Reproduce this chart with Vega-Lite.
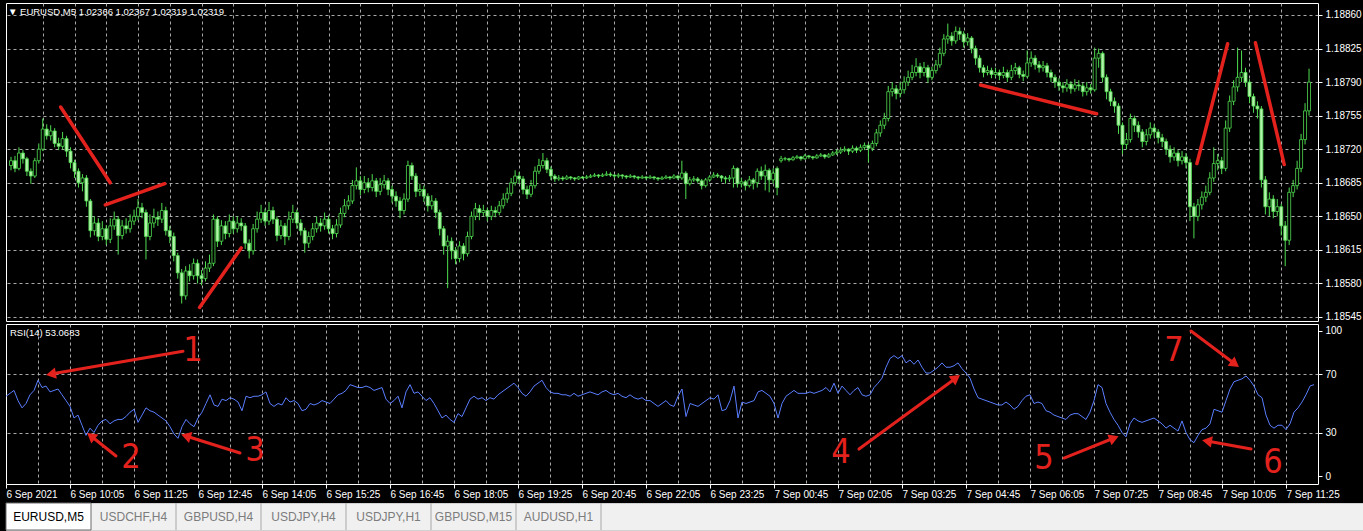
{
"$schema":"https://vega.github.io/schema/vega-lite/v6.json",
"background":"#000000",
"padding":{"left":3,"top":2,"right":0,"bottom":0},
"spacing":2,
"config":{
 "font":"Liberation Sans",
 "view":{"stroke":"#ffffff","strokeWidth":1},
 "axis":{"labelFont":"Liberation Sans","labelFontSize":10,"labelColor":"#ffffff","tickColor":"#ffffff","gridColor":"#a8a8a8","gridDash":[3,3],"gridWidth":1,"domain":false,"labelOverlap":false},
 "title":{"font":"Liberation Sans","fontWeight":"normal","color":"#ffffff","fontSize":9.5}
},
"datasets":{
"bars":[
{"i":0,"o":1.18703,"h":1.18712,"l":1.18698,"c":1.18708,"r":55},
{"i":1,"o":1.18708,"h":1.18713,"l":1.18696,"c":1.18700,"r":57},
{"i":2,"o":1.18700,"h":1.18722,"l":1.18698,"c":1.18716,"r":59},
{"i":3,"o":1.18716,"h":1.18719,"l":1.18705,"c":1.18710,"r":52},
{"i":4,"o":1.18710,"h":1.18712,"l":1.18692,"c":1.18697,"r":47},
{"i":5,"o":1.18697,"h":1.18700,"l":1.18684,"c":1.18692,"r":50},
{"i":6,"o":1.18692,"h":1.18711,"l":1.18690,"c":1.18708,"r":56},
{"i":7,"o":1.18708,"h":1.18726,"l":1.18705,"c":1.18720,"r":59},
{"i":8,"o":1.18720,"h":1.18752,"l":1.18718,"c":1.18741,"r":66},
{"i":9,"o":1.18741,"h":1.18746,"l":1.18730,"c":1.18734,"r":61},
{"i":10,"o":1.18734,"h":1.18745,"l":1.18729,"c":1.18739,"r":62},
{"i":11,"o":1.18739,"h":1.18742,"l":1.18722,"c":1.18726,"r":58},
{"i":12,"o":1.18726,"h":1.18732,"l":1.18719,"c":1.18723,"r":59},
{"i":13,"o":1.18723,"h":1.18738,"l":1.18720,"c":1.18731,"r":60},
{"i":14,"o":1.18731,"h":1.18734,"l":1.18712,"c":1.18718,"r":56},
{"i":15,"o":1.18718,"h":1.18722,"l":1.18700,"c":1.18706,"r":52},
{"i":16,"o":1.18706,"h":1.18709,"l":1.18690,"c":1.18697,"r":48},
{"i":17,"o":1.18697,"h":1.18700,"l":1.18680,"c":1.18685,"r":40},
{"i":18,"o":1.18685,"h":1.18694,"l":1.18676,"c":1.18690,"r":42},
{"i":19,"o":1.18690,"h":1.18693,"l":1.18660,"c":1.18666,"r":35},
{"i":20,"o":1.18666,"h":1.18668,"l":1.18628,"c":1.18635,"r":28},
{"i":21,"o":1.18635,"h":1.18650,"l":1.18630,"c":1.18643,"r":33},
{"i":22,"o":1.18643,"h":1.18648,"l":1.18624,"c":1.18629,"r":30},
{"i":23,"o":1.18629,"h":1.18645,"l":1.18625,"c":1.18637,"r":35},
{"i":24,"o":1.18637,"h":1.18641,"l":1.18620,"c":1.18626,"r":38},
{"i":25,"o":1.18626,"h":1.18648,"l":1.18622,"c":1.18640,"r":39},
{"i":26,"o":1.18640,"h":1.18655,"l":1.18636,"c":1.18647,"r":36},
{"i":27,"o":1.18647,"h":1.18650,"l":1.18610,"c":1.18630,"r":38},
{"i":28,"o":1.18630,"h":1.18646,"l":1.18626,"c":1.18640,"r":39},
{"i":29,"o":1.18640,"h":1.18648,"l":1.18632,"c":1.18637,"r":39},
{"i":30,"o":1.18637,"h":1.18652,"l":1.18633,"c":1.18645,"r":41},
{"i":31,"o":1.18645,"h":1.18657,"l":1.18641,"c":1.18650,"r":44},
{"i":32,"o":1.18650,"h":1.18668,"l":1.18646,"c":1.18659,"r":46},
{"i":33,"o":1.18659,"h":1.18664,"l":1.18648,"c":1.18654,"r":37},
{"i":34,"o":1.18654,"h":1.18657,"l":1.18605,"c":1.18629,"r":42},
{"i":35,"o":1.18629,"h":1.18652,"l":1.18625,"c":1.18643,"r":47},
{"i":36,"o":1.18643,"h":1.18658,"l":1.18638,"c":1.18649,"r":45},
{"i":37,"o":1.18649,"h":1.18655,"l":1.18640,"c":1.18647,"r":44},
{"i":38,"o":1.18647,"h":1.18664,"l":1.18643,"c":1.18656,"r":42},
{"i":39,"o":1.18656,"h":1.18660,"l":1.18630,"c":1.18635,"r":40},
{"i":40,"o":1.18635,"h":1.18640,"l":1.18622,"c":1.18629,"r":38},
{"i":41,"o":1.18629,"h":1.18633,"l":1.18603,"c":1.18609,"r":34},
{"i":42,"o":1.18609,"h":1.18612,"l":1.18585,"c":1.18591,"r":29},
{"i":43,"o":1.18591,"h":1.18595,"l":1.18559,"c":1.18567,"r":26},
{"i":44,"o":1.18567,"h":1.18598,"l":1.18563,"c":1.18593,"r":34},
{"i":45,"o":1.18593,"h":1.18600,"l":1.18582,"c":1.18588,"r":39},
{"i":46,"o":1.18588,"h":1.18606,"l":1.18584,"c":1.18601,"r":36},
{"i":47,"o":1.18601,"h":1.18605,"l":1.18580,"c":1.18588,"r":34},
{"i":48,"o":1.18588,"h":1.18594,"l":1.18578,"c":1.18585,"r":40},
{"i":49,"o":1.18585,"h":1.18603,"l":1.18582,"c":1.18596,"r":44},
{"i":50,"o":1.18596,"h":1.18610,"l":1.18592,"c":1.18601,"r":50},
{"i":51,"o":1.18601,"h":1.18652,"l":1.18598,"c":1.18647,"r":56},
{"i":52,"o":1.18647,"h":1.18650,"l":1.18618,"c":1.18624,"r":49},
{"i":53,"o":1.18624,"h":1.18646,"l":1.18620,"c":1.18640,"r":48},
{"i":54,"o":1.18640,"h":1.18645,"l":1.18626,"c":1.18632,"r":53},
{"i":55,"o":1.18632,"h":1.18652,"l":1.18628,"c":1.18645,"r":52},
{"i":56,"o":1.18645,"h":1.18650,"l":1.18632,"c":1.18637,"r":54},
{"i":57,"o":1.18637,"h":1.18650,"l":1.18633,"c":1.18643,"r":53},
{"i":58,"o":1.18643,"h":1.18648,"l":1.18635,"c":1.18640,"r":51},
{"i":59,"o":1.18640,"h":1.18643,"l":1.18616,"c":1.18622,"r":45},
{"i":60,"o":1.18622,"h":1.18626,"l":1.18606,"c":1.18614,"r":55},
{"i":61,"o":1.18614,"h":1.18642,"l":1.18610,"c":1.18637,"r":54},
{"i":62,"o":1.18637,"h":1.18655,"l":1.18633,"c":1.18647,"r":55},
{"i":63,"o":1.18647,"h":1.18662,"l":1.18643,"c":1.18654,"r":55},
{"i":64,"o":1.18654,"h":1.18658,"l":1.18640,"c":1.18645,"r":56},
{"i":65,"o":1.18645,"h":1.18665,"l":1.18641,"c":1.18656,"r":58},
{"i":66,"o":1.18656,"h":1.18660,"l":1.18642,"c":1.18647,"r":50},
{"i":67,"o":1.18647,"h":1.18650,"l":1.18624,"c":1.18630,"r":48},
{"i":68,"o":1.18630,"h":1.18646,"l":1.18626,"c":1.18640,"r":50},
{"i":69,"o":1.18640,"h":1.18643,"l":1.18620,"c":1.18629,"r":49},
{"i":70,"o":1.18629,"h":1.18655,"l":1.18625,"c":1.18647,"r":54},
{"i":71,"o":1.18647,"h":1.18662,"l":1.18643,"c":1.18654,"r":51},
{"i":72,"o":1.18654,"h":1.18657,"l":1.18637,"c":1.18643,"r":52},
{"i":73,"o":1.18643,"h":1.18647,"l":1.18630,"c":1.18635,"r":50},
{"i":74,"o":1.18635,"h":1.18638,"l":1.18612,"c":1.18622,"r":45},
{"i":75,"o":1.18622,"h":1.18634,"l":1.18617,"c":1.18629,"r":46},
{"i":76,"o":1.18629,"h":1.18643,"l":1.18625,"c":1.18637,"r":50},
{"i":77,"o":1.18637,"h":1.18650,"l":1.18633,"c":1.18643,"r":49},
{"i":78,"o":1.18643,"h":1.18648,"l":1.18634,"c":1.18640,"r":50},
{"i":79,"o":1.18640,"h":1.18654,"l":1.18636,"c":1.18647,"r":52},
{"i":80,"o":1.18647,"h":1.18651,"l":1.18632,"c":1.18637,"r":51},
{"i":81,"o":1.18637,"h":1.18641,"l":1.18626,"c":1.18632,"r":50},
{"i":82,"o":1.18632,"h":1.18647,"l":1.18628,"c":1.18641,"r":53},
{"i":83,"o":1.18641,"h":1.18659,"l":1.18638,"c":1.18653,"r":56},
{"i":84,"o":1.18653,"h":1.18668,"l":1.18649,"c":1.18661,"r":57},
{"i":85,"o":1.18661,"h":1.18672,"l":1.18657,"c":1.18666,"r":59},
{"i":86,"o":1.18666,"h":1.18688,"l":1.18663,"c":1.18682,"r":63},
{"i":87,"o":1.18682,"h":1.18701,"l":1.18678,"c":1.18687,"r":62},
{"i":88,"o":1.18687,"h":1.18692,"l":1.18672,"c":1.18678,"r":61},
{"i":89,"o":1.18678,"h":1.18692,"l":1.18674,"c":1.18685,"r":61},
{"i":90,"o":1.18685,"h":1.18690,"l":1.18675,"c":1.18680,"r":62},
{"i":91,"o":1.18680,"h":1.18694,"l":1.18676,"c":1.18687,"r":61},
{"i":92,"o":1.18687,"h":1.18690,"l":1.18670,"c":1.18676,"r":59},
{"i":93,"o":1.18676,"h":1.18690,"l":1.18672,"c":1.18683,"r":60},
{"i":94,"o":1.18683,"h":1.18693,"l":1.18679,"c":1.18687,"r":61},
{"i":95,"o":1.18687,"h":1.18690,"l":1.18672,"c":1.18678,"r":53},
{"i":96,"o":1.18678,"h":1.18682,"l":1.18664,"c":1.18671,"r":50},
{"i":97,"o":1.18671,"h":1.18676,"l":1.18660,"c":1.18666,"r":52},
{"i":98,"o":1.18666,"h":1.18670,"l":1.18648,"c":1.18656,"r":55},
{"i":99,"o":1.18656,"h":1.18674,"l":1.18652,"c":1.18668,"r":47},
{"i":100,"o":1.18668,"h":1.18708,"l":1.18665,"c":1.18703,"r":58},
{"i":101,"o":1.18703,"h":1.18706,"l":1.18688,"c":1.18692,"r":63},
{"i":102,"o":1.18692,"h":1.18695,"l":1.18670,"c":1.18676,"r":57},
{"i":103,"o":1.18676,"h":1.18684,"l":1.18671,"c":1.18678,"r":58},
{"i":104,"o":1.18678,"h":1.18682,"l":1.18665,"c":1.18671,"r":55},
{"i":105,"o":1.18671,"h":1.18674,"l":1.18655,"c":1.18661,"r":52},
{"i":106,"o":1.18661,"h":1.18672,"l":1.18657,"c":1.18666,"r":54},
{"i":107,"o":1.18666,"h":1.18669,"l":1.18648,"c":1.18654,"r":50},
{"i":108,"o":1.18654,"h":1.18657,"l":1.18630,"c":1.18637,"r":45},
{"i":109,"o":1.18637,"h":1.18640,"l":1.18610,"c":1.18619,"r":40},
{"i":110,"o":1.18619,"h":1.18630,"l":1.18575,"c":1.18624,"r":42},
{"i":111,"o":1.18624,"h":1.18628,"l":1.18605,"c":1.18614,"r":39},
{"i":112,"o":1.18614,"h":1.18618,"l":1.18600,"c":1.18606,"r":37},
{"i":113,"o":1.18606,"h":1.18624,"l":1.18602,"c":1.18619,"r":43},
{"i":114,"o":1.18619,"h":1.18622,"l":1.18604,"c":1.18611,"r":41},
{"i":115,"o":1.18611,"h":1.18634,"l":1.18608,"c":1.18629,"r":47},
{"i":116,"o":1.18629,"h":1.18655,"l":1.18626,"c":1.18650,"r":53},
{"i":117,"o":1.18650,"h":1.18664,"l":1.18646,"c":1.18658,"r":55},
{"i":118,"o":1.18658,"h":1.18662,"l":1.18646,"c":1.18654,"r":53},
{"i":119,"o":1.18654,"h":1.18662,"l":1.18650,"c":1.18656,"r":54},
{"i":120,"o":1.18656,"h":1.18659,"l":1.18645,"c":1.18650,"r":52},
{"i":121,"o":1.18650,"h":1.18661,"l":1.18646,"c":1.18656,"r":54},
{"i":122,"o":1.18656,"h":1.18660,"l":1.18649,"c":1.18654,"r":53},
{"i":123,"o":1.18654,"h":1.18666,"l":1.18651,"c":1.18661,"r":56},
{"i":124,"o":1.18661,"h":1.18674,"l":1.18658,"c":1.18668,"r":58},
{"i":125,"o":1.18668,"h":1.18680,"l":1.18664,"c":1.18674,"r":60},
{"i":126,"o":1.18674,"h":1.18690,"l":1.18671,"c":1.18685,"r":62},
{"i":127,"o":1.18685,"h":1.18698,"l":1.18682,"c":1.18692,"r":64},
{"i":128,"o":1.18692,"h":1.18696,"l":1.18684,"c":1.18689,"r":61},
{"i":129,"o":1.18689,"h":1.18692,"l":1.18673,"c":1.18678,"r":57},
{"i":130,"o":1.18678,"h":1.18682,"l":1.18668,"c":1.18673,"r":55},
{"i":131,"o":1.18673,"h":1.18688,"l":1.18670,"c":1.18682,"r":58},
{"i":132,"o":1.18682,"h":1.18702,"l":1.18679,"c":1.18697,"r":62},
{"i":133,"o":1.18697,"h":1.18710,"l":1.18694,"c":1.18703,"r":64},
{"i":134,"o":1.18703,"h":1.18716,"l":1.18700,"c":1.18708,"r":66},
{"i":135,"o":1.18708,"h":1.18711,"l":1.18695,"c":1.18699,"r":61},
{"i":136,"o":1.18699,"h":1.18702,"l":1.18688,"c":1.18692,"r":58},
{"i":137,"o":1.18692,"h":1.18694,"l":1.18686,"c":1.18689,"r":57},
{"i":138,"o":1.18689,"h":1.18693,"l":1.18687,"c":1.18690,"r":57},
{"i":139,"o":1.18690,"h":1.18692,"l":1.18687,"c":1.18689,"r":56},
{"i":140,"o":1.18689,"h":1.18693,"l":1.18688,"c":1.18691,"r":56},
{"i":141,"o":1.18691,"h":1.18692,"l":1.18688,"c":1.18690,"r":55},
{"i":142,"o":1.18690,"h":1.18691,"l":1.18687,"c":1.18689,"r":57},
{"i":143,"o":1.18689,"h":1.18692,"l":1.18688,"c":1.18691,"r":55},
{"i":144,"o":1.18691,"h":1.18692,"l":1.18689,"c":1.18690,"r":56},
{"i":145,"o":1.18690,"h":1.18693,"l":1.18689,"c":1.18691,"r":57},
{"i":146,"o":1.18691,"h":1.18694,"l":1.18690,"c":1.18692,"r":58},
{"i":147,"o":1.18692,"h":1.18695,"l":1.18691,"c":1.18693,"r":57},
{"i":148,"o":1.18693,"h":1.18694,"l":1.18690,"c":1.18692,"r":56},
{"i":149,"o":1.18692,"h":1.18695,"l":1.18691,"c":1.18693,"r":58},
{"i":150,"o":1.18693,"h":1.18697,"l":1.18692,"c":1.18694,"r":59},
{"i":151,"o":1.18694,"h":1.18696,"l":1.18691,"c":1.18693,"r":57},
{"i":152,"o":1.18693,"h":1.18694,"l":1.18690,"c":1.18692,"r":56},
{"i":153,"o":1.18692,"h":1.18695,"l":1.18690,"c":1.18693,"r":57},
{"i":154,"o":1.18693,"h":1.18694,"l":1.18689,"c":1.18692,"r":55},
{"i":155,"o":1.18692,"h":1.18693,"l":1.18689,"c":1.18691,"r":54},
{"i":156,"o":1.18691,"h":1.18694,"l":1.18690,"c":1.18692,"r":56},
{"i":157,"o":1.18692,"h":1.18693,"l":1.18689,"c":1.18691,"r":54},
{"i":158,"o":1.18691,"h":1.18692,"l":1.18688,"c":1.18690,"r":53},
{"i":159,"o":1.18690,"h":1.18693,"l":1.18689,"c":1.18691,"r":54},
{"i":160,"o":1.18691,"h":1.18692,"l":1.18688,"c":1.18690,"r":52},
{"i":161,"o":1.18690,"h":1.18693,"l":1.18689,"c":1.18691,"r":52},
{"i":162,"o":1.18691,"h":1.18692,"l":1.18688,"c":1.18690,"r":50},
{"i":163,"o":1.18690,"h":1.18691,"l":1.18687,"c":1.18689,"r":48},
{"i":164,"o":1.18689,"h":1.18692,"l":1.18688,"c":1.18690,"r":50},
{"i":165,"o":1.18690,"h":1.18693,"l":1.18689,"c":1.18691,"r":52},
{"i":166,"o":1.18691,"h":1.18692,"l":1.18688,"c":1.18690,"r":49},
{"i":167,"o":1.18690,"h":1.18694,"l":1.18689,"c":1.18692,"r":48},
{"i":168,"o":1.18692,"h":1.18693,"l":1.18688,"c":1.18690,"r":55},
{"i":169,"o":1.18690,"h":1.18708,"l":1.18688,"c":1.18695,"r":60},
{"i":170,"o":1.18695,"h":1.18697,"l":1.18668,"c":1.18684,"r":41},
{"i":171,"o":1.18684,"h":1.18691,"l":1.18682,"c":1.18688,"r":50},
{"i":172,"o":1.18688,"h":1.18692,"l":1.18686,"c":1.18689,"r":49},
{"i":173,"o":1.18689,"h":1.18691,"l":1.18685,"c":1.18687,"r":48},
{"i":174,"o":1.18687,"h":1.18689,"l":1.18678,"c":1.18682,"r":50},
{"i":175,"o":1.18682,"h":1.18690,"l":1.18680,"c":1.18688,"r":52},
{"i":176,"o":1.18688,"h":1.18693,"l":1.18686,"c":1.18691,"r":54},
{"i":177,"o":1.18691,"h":1.18696,"l":1.18690,"c":1.18693,"r":53},
{"i":178,"o":1.18693,"h":1.18695,"l":1.18690,"c":1.18692,"r":56},
{"i":179,"o":1.18692,"h":1.18693,"l":1.18686,"c":1.18690,"r":45},
{"i":180,"o":1.18690,"h":1.18692,"l":1.18684,"c":1.18689,"r":46},
{"i":181,"o":1.18689,"h":1.18693,"l":1.18686,"c":1.18690,"r":52},
{"i":182,"o":1.18690,"h":1.18703,"l":1.18680,"c":1.18700,"r":62},
{"i":183,"o":1.18700,"h":1.18701,"l":1.18680,"c":1.18684,"r":40},
{"i":184,"o":1.18684,"h":1.18690,"l":1.18680,"c":1.18686,"r":51},
{"i":185,"o":1.18686,"h":1.18688,"l":1.18677,"c":1.18682,"r":50},
{"i":186,"o":1.18682,"h":1.18692,"l":1.18680,"c":1.18688,"r":51},
{"i":187,"o":1.18688,"h":1.18690,"l":1.18678,"c":1.18685,"r":52},
{"i":188,"o":1.18685,"h":1.18700,"l":1.18680,"c":1.18697,"r":58},
{"i":189,"o":1.18697,"h":1.18702,"l":1.18688,"c":1.18692,"r":59},
{"i":190,"o":1.18692,"h":1.18704,"l":1.18677,"c":1.18698,"r":57},
{"i":191,"o":1.18698,"h":1.18700,"l":1.18675,"c":1.18688,"r":55},
{"i":192,"o":1.18688,"h":1.18700,"l":1.18684,"c":1.18695,"r":50},
{"i":193,"o":1.18700,"h":1.18702,"l":1.18672,"c":1.18680,"r":40},
{"i":194,"o":1.18708,"h":1.18713,"l":1.18706,"c":1.18710,"r":50},
{"i":195,"o":1.18710,"h":1.18712,"l":1.18708,"c":1.18710,"r":55},
{"i":196,"o":1.18710,"h":1.18711,"l":1.18707,"c":1.18709,"r":57},
{"i":197,"o":1.18709,"h":1.18713,"l":1.18708,"c":1.18711,"r":59},
{"i":198,"o":1.18711,"h":1.18714,"l":1.18710,"c":1.18712,"r":57},
{"i":199,"o":1.18712,"h":1.18713,"l":1.18708,"c":1.18710,"r":57},
{"i":200,"o":1.18710,"h":1.18715,"l":1.18709,"c":1.18713,"r":57},
{"i":201,"o":1.18713,"h":1.18714,"l":1.18710,"c":1.18712,"r":58},
{"i":202,"o":1.18712,"h":1.18713,"l":1.18709,"c":1.18711,"r":57},
{"i":203,"o":1.18711,"h":1.18715,"l":1.18710,"c":1.18713,"r":58},
{"i":204,"o":1.18713,"h":1.18716,"l":1.18712,"c":1.18714,"r":59},
{"i":205,"o":1.18714,"h":1.18715,"l":1.18710,"c":1.18712,"r":61},
{"i":206,"o":1.18712,"h":1.18716,"l":1.18711,"c":1.18714,"r":58},
{"i":207,"o":1.18714,"h":1.18718,"l":1.18713,"c":1.18716,"r":64},
{"i":208,"o":1.18716,"h":1.18720,"l":1.18714,"c":1.18717,"r":57},
{"i":209,"o":1.18717,"h":1.18722,"l":1.18715,"c":1.18719,"r":62},
{"i":210,"o":1.18719,"h":1.18723,"l":1.18717,"c":1.18720,"r":59},
{"i":211,"o":1.18720,"h":1.18721,"l":1.18714,"c":1.18718,"r":56},
{"i":212,"o":1.18718,"h":1.18724,"l":1.18716,"c":1.18721,"r":59},
{"i":213,"o":1.18721,"h":1.18723,"l":1.18716,"c":1.18719,"r":61},
{"i":214,"o":1.18719,"h":1.18725,"l":1.18717,"c":1.18722,"r":56},
{"i":215,"o":1.18722,"h":1.18727,"l":1.18719,"c":1.18724,"r":55},
{"i":216,"o":1.18724,"h":1.18726,"l":1.18706,"c":1.18721,"r":56},
{"i":217,"o":1.18721,"h":1.18729,"l":1.18718,"c":1.18726,"r":61},
{"i":218,"o":1.18726,"h":1.18741,"l":1.18723,"c":1.18737,"r":64},
{"i":219,"o":1.18737,"h":1.18750,"l":1.18733,"c":1.18745,"r":67.5},
{"i":220,"o":1.18745,"h":1.18758,"l":1.18741,"c":1.18752,"r":75},
{"i":221,"o":1.18752,"h":1.18786,"l":1.18749,"c":1.18780,"r":81},
{"i":222,"o":1.18780,"h":1.18790,"l":1.18775,"c":1.18783,"r":83},
{"i":223,"o":1.18783,"h":1.18787,"l":1.18772,"c":1.18778,"r":81},
{"i":224,"o":1.18778,"h":1.18790,"l":1.18774,"c":1.18782,"r":83},
{"i":225,"o":1.18782,"h":1.18796,"l":1.18778,"c":1.18790,"r":78},
{"i":226,"o":1.18790,"h":1.18802,"l":1.18786,"c":1.18795,"r":80},
{"i":227,"o":1.18795,"h":1.18808,"l":1.18792,"c":1.18800,"r":77},
{"i":228,"o":1.18800,"h":1.18815,"l":1.18796,"c":1.18806,"r":80},
{"i":229,"o":1.18806,"h":1.18810,"l":1.18794,"c":1.18800,"r":75},
{"i":230,"o":1.18800,"h":1.18811,"l":1.18796,"c":1.18805,"r":71},
{"i":231,"o":1.18805,"h":1.18808,"l":1.18789,"c":1.18795,"r":71},
{"i":232,"o":1.18795,"h":1.18806,"l":1.18792,"c":1.18802,"r":73},
{"i":233,"o":1.18802,"h":1.18813,"l":1.18799,"c":1.18808,"r":75},
{"i":234,"o":1.18808,"h":1.18826,"l":1.18805,"c":1.18820,"r":78},
{"i":235,"o":1.18820,"h":1.18840,"l":1.18817,"c":1.18835,"r":75},
{"i":236,"o":1.18835,"h":1.18851,"l":1.18830,"c":1.18838,"r":75},
{"i":237,"o":1.18838,"h":1.18842,"l":1.18828,"c":1.18833,"r":76},
{"i":238,"o":1.18833,"h":1.18848,"l":1.18830,"c":1.18843,"r":78},
{"i":239,"o":1.18843,"h":1.18847,"l":1.18834,"c":1.18840,"r":74},
{"i":240,"o":1.18840,"h":1.18843,"l":1.18826,"c":1.18832,"r":71},
{"i":241,"o":1.18832,"h":1.18841,"l":1.18828,"c":1.18836,"r":67.5},
{"i":242,"o":1.18836,"h":1.18838,"l":1.18820,"c":1.18825,"r":60},
{"i":243,"o":1.18825,"h":1.18828,"l":1.18808,"c":1.18815,"r":54},
{"i":244,"o":1.18815,"h":1.18818,"l":1.18800,"c":1.18805,"r":53},
{"i":245,"o":1.18805,"h":1.18808,"l":1.18795,"c":1.18800,"r":52},
{"i":246,"o":1.18800,"h":1.18807,"l":1.18797,"c":1.18802,"r":51},
{"i":247,"o":1.18802,"h":1.18805,"l":1.18794,"c":1.18798,"r":50},
{"i":248,"o":1.18798,"h":1.18805,"l":1.18795,"c":1.18800,"r":49},
{"i":249,"o":1.18800,"h":1.18803,"l":1.18792,"c":1.18797,"r":49},
{"i":250,"o":1.18797,"h":1.18806,"l":1.18794,"c":1.18800,"r":51},
{"i":251,"o":1.18800,"h":1.18803,"l":1.18790,"c":1.18795,"r":49},
{"i":252,"o":1.18795,"h":1.18808,"l":1.18792,"c":1.18802,"r":46},
{"i":253,"o":1.18802,"h":1.18810,"l":1.18798,"c":1.18805,"r":48},
{"i":254,"o":1.18805,"h":1.18807,"l":1.18794,"c":1.18798,"r":52},
{"i":255,"o":1.18798,"h":1.18802,"l":1.18791,"c":1.18796,"r":55},
{"i":256,"o":1.18796,"h":1.18823,"l":1.18794,"c":1.18810,"r":56},
{"i":257,"o":1.18810,"h":1.18822,"l":1.18806,"c":1.18815,"r":50},
{"i":258,"o":1.18815,"h":1.18818,"l":1.18803,"c":1.18808,"r":51},
{"i":259,"o":1.18808,"h":1.18812,"l":1.18800,"c":1.18805,"r":50},
{"i":260,"o":1.18805,"h":1.18812,"l":1.18801,"c":1.18807,"r":45},
{"i":261,"o":1.18807,"h":1.18810,"l":1.18795,"c":1.18800,"r":44},
{"i":262,"o":1.18800,"h":1.18803,"l":1.18790,"c":1.18795,"r":42},
{"i":263,"o":1.18795,"h":1.18798,"l":1.18784,"c":1.18790,"r":41},
{"i":264,"o":1.18790,"h":1.18794,"l":1.18781,"c":1.18786,"r":40},
{"i":265,"o":1.18786,"h":1.18790,"l":1.18779,"c":1.18784,"r":39},
{"i":266,"o":1.18784,"h":1.18793,"l":1.18780,"c":1.18788,"r":42},
{"i":267,"o":1.18788,"h":1.18791,"l":1.18778,"c":1.18783,"r":43},
{"i":268,"o":1.18783,"h":1.18793,"l":1.18780,"c":1.18787,"r":43},
{"i":269,"o":1.18787,"h":1.18792,"l":1.18781,"c":1.18786,"r":41},
{"i":270,"o":1.18786,"h":1.18789,"l":1.18775,"c":1.18780,"r":39},
{"i":271,"o":1.18780,"h":1.18790,"l":1.18776,"c":1.18784,"r":44},
{"i":272,"o":1.18784,"h":1.18788,"l":1.18778,"c":1.18782,"r":52},
{"i":273,"o":1.18782,"h":1.18826,"l":1.18780,"c":1.18815,"r":63},
{"i":274,"o":1.18815,"h":1.18825,"l":1.18805,"c":1.18820,"r":61},
{"i":275,"o":1.18820,"h":1.18822,"l":1.18790,"c":1.18795,"r":50},
{"i":276,"o":1.18795,"h":1.18798,"l":1.18772,"c":1.18780,"r":44},
{"i":277,"o":1.18780,"h":1.18783,"l":1.18765,"c":1.18770,"r":39},
{"i":278,"o":1.18770,"h":1.18774,"l":1.18758,"c":1.18765,"r":35},
{"i":279,"o":1.18765,"h":1.18768,"l":1.18736,"c":1.18745,"r":30},
{"i":280,"o":1.18745,"h":1.18748,"l":1.18715,"c":1.18725,"r":27},
{"i":281,"o":1.18725,"h":1.18737,"l":1.18720,"c":1.18730,"r":36},
{"i":282,"o":1.18730,"h":1.18757,"l":1.18727,"c":1.18752,"r":40},
{"i":283,"o":1.18752,"h":1.18755,"l":1.18738,"c":1.18745,"r":38},
{"i":284,"o":1.18745,"h":1.18749,"l":1.18732,"c":1.18738,"r":37},
{"i":285,"o":1.18738,"h":1.18741,"l":1.18722,"c":1.18728,"r":38},
{"i":286,"o":1.18728,"h":1.18741,"l":1.18724,"c":1.18735,"r":39},
{"i":287,"o":1.18735,"h":1.18748,"l":1.18731,"c":1.18742,"r":40},
{"i":288,"o":1.18742,"h":1.18746,"l":1.18732,"c":1.18738,"r":38},
{"i":289,"o":1.18738,"h":1.18741,"l":1.18726,"c":1.18732,"r":36},
{"i":290,"o":1.18732,"h":1.18736,"l":1.18722,"c":1.18728,"r":33},
{"i":291,"o":1.18728,"h":1.18731,"l":1.18714,"c":1.18720,"r":35},
{"i":292,"o":1.18720,"h":1.18724,"l":1.18706,"c":1.18712,"r":33},
{"i":293,"o":1.18712,"h":1.18722,"l":1.18708,"c":1.18716,"r":31},
{"i":294,"o":1.18716,"h":1.18719,"l":1.18702,"c":1.18708,"r":38},
{"i":295,"o":1.18708,"h":1.18718,"l":1.18704,"c":1.18712,"r":30},
{"i":296,"o":1.18712,"h":1.18716,"l":1.18700,"c":1.18706,"r":25},
{"i":297,"o":1.18706,"h":1.18710,"l":1.18645,"c":1.18660,"r":23},
{"i":298,"o":1.18660,"h":1.18664,"l":1.18627,"c":1.18650,"r":28},
{"i":299,"o":1.18650,"h":1.18668,"l":1.18645,"c":1.18662,"r":32},
{"i":300,"o":1.18662,"h":1.18676,"l":1.18657,"c":1.18670,"r":33},
{"i":301,"o":1.18670,"h":1.18682,"l":1.18665,"c":1.18675,"r":36},
{"i":302,"o":1.18675,"h":1.18696,"l":1.18672,"c":1.18690,"r":46},
{"i":303,"o":1.18690,"h":1.18722,"l":1.18686,"c":1.18705,"r":45},
{"i":304,"o":1.18705,"h":1.18715,"l":1.18698,"c":1.18708,"r":44},
{"i":305,"o":1.18708,"h":1.18712,"l":1.18694,"c":1.18700,"r":52},
{"i":306,"o":1.18700,"h":1.18750,"l":1.18697,"c":1.18742,"r":60},
{"i":307,"o":1.18742,"h":1.18776,"l":1.18738,"c":1.18770,"r":65},
{"i":308,"o":1.18770,"h":1.18792,"l":1.18766,"c":1.18785,"r":66},
{"i":309,"o":1.18785,"h":1.18826,"l":1.18780,"c":1.18795,"r":67},
{"i":310,"o":1.18795,"h":1.18823,"l":1.18790,"c":1.18800,"r":69},
{"i":311,"o":1.18800,"h":1.18805,"l":1.18785,"c":1.18790,"r":66},
{"i":312,"o":1.18790,"h":1.18793,"l":1.18768,"c":1.18775,"r":62},
{"i":313,"o":1.18775,"h":1.18778,"l":1.18758,"c":1.18765,"r":56},
{"i":314,"o":1.18765,"h":1.18770,"l":1.18752,"c":1.18762,"r":54},
{"i":315,"o":1.18762,"h":1.18765,"l":1.18680,"c":1.18688,"r":42},
{"i":316,"o":1.18688,"h":1.18692,"l":1.18652,"c":1.18660,"r":35},
{"i":317,"o":1.18660,"h":1.18675,"l":1.18650,"c":1.18668,"r":33},
{"i":318,"o":1.18668,"h":1.18672,"l":1.18648,"c":1.18655,"r":35},
{"i":319,"o":1.18655,"h":1.18668,"l":1.18650,"c":1.18660,"r":35},
{"i":320,"o":1.18660,"h":1.18663,"l":1.18630,"c":1.18640,"r":32},
{"i":321,"o":1.18640,"h":1.18645,"l":1.18598,"c":1.18625,"r":36},
{"i":322,"o":1.18625,"h":1.18680,"l":1.18620,"c":1.18675,"r":44},
{"i":323,"o":1.18675,"h":1.18688,"l":1.18670,"c":1.18682,"r":47},
{"i":324,"o":1.18682,"h":1.18708,"l":1.18678,"c":1.18700,"r":51},
{"i":325,"o":1.18700,"h":1.18736,"l":1.18696,"c":1.18730,"r":56},
{"i":326,"o":1.18730,"h":1.18768,"l":1.18725,"c":1.18760,"r":62},
{"i":327,"o":1.18760,"h":1.18804,"l":1.18755,"c":1.18790,"r":63}
],
"lines":[
{"x":12.5,"y":1.18764,"x2":25,"y2":1.18685},
{"x":23.75,"y":1.18662,"x2":38.75,"y2":1.18684},
{"x":47.5,"y":1.18555,"x2":58,"y2":1.18617},
{"x":244.25,"y":1.18787,"x2":273.5,"y2":1.18757},
{"x":298.75,"y":1.18705,"x2":306.5,"y2":1.18830},
{"x":313.5,"y":1.18831,"x2":320.75,"y2":1.18704}
],
"arrows":[
{"n":"1","x":44.25,"r":86,"x2":11.25,"r2":70.3,"lx":46.75,"lr":86},
{"n":"2","x":27.5,"r":13.8,"x2":21.25,"r2":27.6,"lx":31.25,"lr":12.4},
{"n":"3","x":58.5,"r":15.9,"x2":45,"r2":27.6,"lx":62.25,"lr":17},
{"n":"4","x":213.25,"r":18.6,"x2":237.5,"r2":67.6,"lx":208.75,"lr":15.9},
{"n":"5","x":264.5,"r":12.4,"x2":277,"r2":26.2,"lx":259.5,"lr":11.7},
{"n":"6","x":311.25,"r":18.6,"x2":300.25,"r2":24.1,"lx":316.75,"lr":9},
{"n":"7","x":296.25,"r":100,"x2":307.25,"r2":77.2,"lx":292,"lr":86}
],
"tabs":[
{"tab":"EURUSD,M5"},{"tab":"USDCHF,H4"},{"tab":"GBPUSD,H4"},{"tab":"USDJPY,H4"},{"tab":"USDJPY,H1"},{"tab":"GBPUSD,M15"},{"tab":"AUDUSD,H1"}
]
},
"vconcat":[
{
"bounds":"flush",
"spacing":3,
"vconcat":[
{
"width":1312,"height":318,
"title":{"text":"▼ EURUSD,M5  1.02366 1.02367 1.02319 1.02319","anchor":"start","frame":"group","offset":-13,"dx":2},
"layer":[
{"data":{"name":"bars"},"mark":{"type":"rule","color":"#4fdc4f","strokeWidth":1},
 "encoding":{
  "x":{"field":"i","type":"quantitative","scale":{"domain":[0,328],"nice":false,"zero":false},
       "axis":{"orient":"bottom","values":[8,16,24,32,40,48,56,64,72,80,88,96,104,112,120,128,136,144,152,160,168,176,184,192,200,208,216,224,232,240,248,256,264,272,280,288,296,304,312,320],"tickCount":100,"grid":true,"labels":false,"ticks":false,"domain":false,"title":null}},
  "y":{"field":"l","type":"quantitative","scale":{"domain":[1.185408,1.188725],"nice":false,"zero":false},
       "axis":{"orient":"right","values":[1.18545,1.1858,1.18615,1.1865,1.18685,1.1872,1.18755,1.1879,1.18825,1.1886],"tickCount":100,"format":".5f","grid":true,"tickSize":4,"labelPadding":3,"labelOverlap":false,"labelBound":false,"title":null}},
  "y2":{"field":"h"}}},
{"data":{"name":"bars"},"mark":{"type":"bar","size":3,"stroke":"#4fdc4f","strokeWidth":0.8},
 "encoding":{
  "x":{"field":"i","type":"quantitative","scale":{"domain":[0,328],"nice":false,"zero":false},"axis":{"title":null}},
  "y":{"field":"o","type":"quantitative","scale":{"domain":[1.185408,1.188725],"nice":false,"zero":false},"axis":{"title":null}},
  "y2":{"field":"c"},
  "fill":{"condition":{"test":"datum.c >= datum.o","value":"#000000"},"value":"#b2f2aa"}}},
{"data":{"name":"lines"},"mark":{"type":"rule","color":"#e3211d","strokeWidth":3.5,"strokeCap":"round"},
 "encoding":{
  "x":{"field":"x","type":"quantitative","scale":{"domain":[0,328],"nice":false,"zero":false},"axis":{"title":null}},
  "y":{"field":"y","type":"quantitative","scale":{"domain":[1.185408,1.188725],"nice":false,"zero":false},"axis":{"title":null}},
  "x2":{"field":"x2"},"y2":{"field":"y2"}}}
]
},
{
"width":1312,"height":160,
"title":{"text":"RSI(14) 53.0683","anchor":"start","frame":"group","offset":-13,"dx":4},
"layer":[
{"data":{"name":"bars"},"mark":{"type":"line","color":"#5a7eff","strokeWidth":1},
 "encoding":{
  "x":{"field":"i","type":"quantitative","scale":{"domain":[0,328],"nice":false,"zero":false},
       "axis":{"orient":"bottom","values":[0,8,16,24,32,40,48,56,64,72,80,88,96,104,112,120,128,136,144,152,160,168,176,184,192,200,208,216,224,232,240,248,256,264,272,280,288,296,304,312,320],"tickCount":100,
        "grid":true,"gridOpacity":{"condition":{"test":"datum.value == 0","value":0},"value":1},
        "ticks":true,"tickSize":{"condition":{"test":"datum.value % 16 == 0","value":4},"value":0},
        "labelAlign":"left","labelBaseline":"top","labelPadding":1,"labelOverlap":false,"labelFlush":false,
        "labelExpr":"datum.value % 16 == 0 ? ['6 Sep 2021','6 Sep 10:05','6 Sep 11:25','6 Sep 12:45','6 Sep 14:05','6 Sep 15:25','6 Sep 16:45','6 Sep 18:05','6 Sep 19:25','6 Sep 20:45','6 Sep 22:05','6 Sep 23:25','7 Sep 00:45','7 Sep 02:05','7 Sep 03:25','7 Sep 04:45','7 Sep 06:05','7 Sep 07:25','7 Sep 08:45','7 Sep 10:05','7 Sep 11:25'][datum.value/16] : ''",
        "domain":false,"title":null}},
  "y":{"field":"r","type":"quantitative","scale":{"domain":[-5.5,104.8],"nice":false,"zero":false},
       "axis":{"orient":"right","values":[0,30,70,100],"tickCount":100,"format":"d","grid":true,"gridOpacity":{"condition":{"test":"datum.value == 30 || datum.value == 70","value":1},"value":0},"tickSize":4,"labelPadding":3,"labelOverlap":false,"title":null}}}},
{"data":{"name":"arrows"},"mark":{"type":"rule","color":"#e3211d","strokeWidth":3,"strokeCap":"round"},
 "encoding":{
  "x":{"field":"x","type":"quantitative","scale":{"domain":[0,328],"nice":false,"zero":false},"axis":{"title":null}},
  "y":{"field":"r","type":"quantitative","scale":{"domain":[-5.5,104.8],"nice":false,"zero":false},"axis":{"title":null}},
  "x2":{"field":"x2"},"y2":{"field":"r2"}}},
{"data":{"name":"arrows"},"transform":[{"calculate":"atan2((datum.x2-datum.x)*4,(datum.r2-datum.r)*1.45)*180/PI","as":"ang"}],
 "mark":{"type":"point","shape":"triangle-up","filled":true,"color":"#e3211d","size":130,"opacity":1},
 "encoding":{
  "x":{"field":"x2","type":"quantitative","scale":{"domain":[0,328],"nice":false,"zero":false},"axis":{"title":null}},
  "y":{"field":"r2","type":"quantitative","scale":{"domain":[-5.5,104.8],"nice":false,"zero":false},"axis":{"title":null}},
  "angle":{"field":"ang","type":"quantitative","scale":null}}},
{"data":{"name":"arrows"},"mark":{"type":"text","color":"#e3211d","fontSize":34,"font":"Liberation Sans Narrow, DejaVu Sans Condensed, sans-serif","align":"center","baseline":"middle"},
 "encoding":{
  "x":{"field":"lx","type":"quantitative","scale":{"domain":[0,328],"nice":false,"zero":false},"axis":{"title":null}},
  "y":{"field":"lr","type":"quantitative","scale":{"domain":[-5.5,104.8],"nice":false,"zero":false},"axis":{"title":null}},
  "text":{"field":"n"}}}
]
}
]
},
{
"width":1360,"height":27,
"view":{"fill":"#f0f0f0","stroke":"#d0d0d0"},
"data":{"name":"tabs"},
"encoding":{"x":{"field":"tab","type":"nominal","scale":{"type":"band","domain":["EURUSD,M5","USDCHF,H4","GBPUSD,H4","USDJPY,H4","USDJPY,H1","GBPUSD,M15","AUDUSD,H1"],"range":[0,595],"paddingInner":0,"paddingOuter":0},"axis":null}},
"layer":[
{"transform":[{"filter":"datum.tab == 'EURUSD,M5'"}],"mark":{"type":"bar","fill":"#ffffff","stroke":"#6a6a6a","strokeWidth":1}},
{"transform":[{"filter":"datum.tab != 'EURUSD,M5'"}],"mark":{"type":"rule","color":"#a8a8a8","strokeWidth":1},"encoding":{"x":{"field":"tab","type":"nominal","bandPosition":1}}},
{"mark":{"type":"text","fontSize":12,"font":"Liberation Sans","baseline":"middle"},
 "encoding":{"text":{"field":"tab"},"color":{"condition":{"test":"datum.tab == 'EURUSD,M5'","value":"#000000"},"value":"#7c7c7c"}}}
]
}
]
}
